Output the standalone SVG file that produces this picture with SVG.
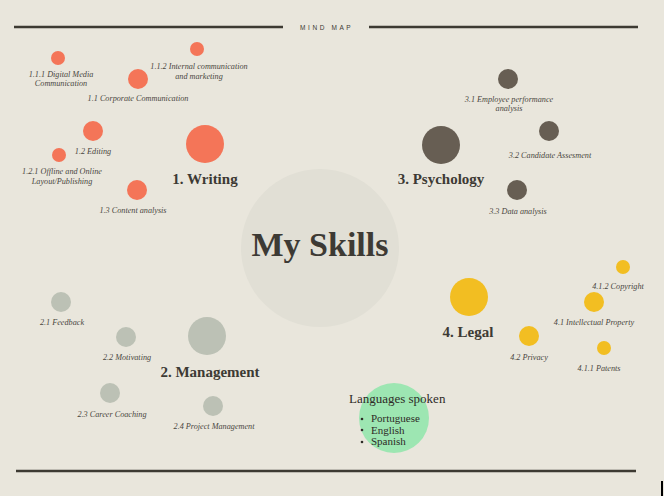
<svg xmlns="http://www.w3.org/2000/svg" width="664" height="496" viewBox="0 0 664 496">
<style>
.lbl{font-family:"Liberation Serif",serif;font-style:italic;font-size:8.2px;fill:#4a463f;text-anchor:middle}
.hd{font-family:"Liberation Serif",serif;font-weight:bold;font-size:15px;fill:#3d3a34;text-anchor:middle}
.w{fill:#F47558}.p{fill:#675E53}.m{fill:#BCC1B5}.l{fill:#F2BE22}
.rule{stroke:#3d3a32;stroke-width:2.5}
.lang{font-family:"Liberation Serif",serif;fill:#2e2b27}
</style>
<rect width="664" height="496" fill="#E9E6DC"/>
<rect x="661" y="481" width="2" height="15" fill="#000"/>
<g id="frame">
<line class="rule" x1="14" y1="27" x2="283" y2="27"/>
<line class="rule" x1="369" y1="27" x2="638" y2="27"/>
<line class="rule" x1="16" y1="471" x2="636" y2="471"/>
<text x="300" y="30" font-family="Liberation Sans,sans-serif" font-size="6.5" letter-spacing="2.6" fill="#3d3a34">MIND MAP</text>
</g>
<g id="connectors"></g>
<g id="center">
<circle cx="320" cy="248" r="79" fill="#E1DFD5"/>
<text x="320" y="256" font-family="Liberation Serif,serif" font-weight="bold" font-size="34" fill="#3d3a34" text-anchor="middle">My Skills</text>
</g>
<g id="writing">
<circle class="w" cx="205" cy="144" r="19"/>
<text class="hd" x="205" y="184">1. Writing</text>
</g>
<g id="w11"><circle class="w" cx="138" cy="79" r="10"/><text class="lbl" x="138" y="101">1.1 Corporate Communication</text></g>
<g id="w111"><circle class="w" cx="58" cy="58" r="7"/><text class="lbl" x="61" y="77">1.1.1 Digital Media</text><text class="lbl" x="61" y="86">Communication</text></g>
<g id="w112"><circle class="w" cx="197" cy="49" r="7"/><text class="lbl" x="199" y="69">1.1.2 Internal communication</text><text class="lbl" x="199" y="79">and marketing</text></g>
<g id="w12"><circle class="w" cx="93" cy="131" r="10"/><text class="lbl" x="93" y="154">1.2 Editing</text></g>
<g id="w121"><circle class="w" cx="59" cy="155" r="7"/><text class="lbl" x="62" y="174">1.2.1 Offline and Online</text><text class="lbl" x="62" y="184">Layout/Publishing</text></g>
<g id="w13"><circle class="w" cx="137" cy="190" r="10"/><text class="lbl" x="133" y="213">1.3 Content analysis</text></g>
<g id="psychology">
<circle class="p" cx="441" cy="145" r="19"/>
<text class="hd" x="441" y="184">3. Psychology</text>
</g>
<g id="p31"><circle class="p" cx="508" cy="79" r="10"/><text class="lbl" x="509" y="102">3.1 Employee performance</text><text class="lbl" x="509" y="111">analysis</text></g>
<g id="p32"><circle class="p" cx="549" cy="131" r="10"/><text class="lbl" x="550" y="158">3.2 Candidate Assesment</text></g>
<g id="p33"><circle class="p" cx="517" cy="190" r="10"/><text class="lbl" x="518" y="214">3.3 Data analysis</text></g>
<g id="management">
<circle class="m" cx="207" cy="336" r="19"/>
<text class="hd" x="210" y="377">2. Management</text>
</g>
<g id="m21"><circle class="m" cx="61" cy="302" r="10"/><text class="lbl" x="62" y="325">2.1 Feedback</text></g>
<g id="m22"><circle class="m" cx="126" cy="337" r="10"/><text class="lbl" x="127" y="360">2.2 Motivating</text></g>
<g id="m23"><circle class="m" cx="110" cy="393" r="10"/><text class="lbl" x="112" y="417">2.3 Career Coaching</text></g>
<g id="m24"><circle class="m" cx="213" cy="406" r="10"/><text class="lbl" x="214" y="429">2.4 Project Management</text></g>
<g id="legal">
<circle class="l" cx="469" cy="297" r="19"/>
<text class="hd" x="468" y="337">4. Legal</text>
</g>
<g id="l41"><circle class="l" cx="594" cy="302" r="10"/><text class="lbl" x="594" y="325">4.1 Intellectual Property</text></g>
<g id="l411"><circle class="l" cx="604" cy="348" r="7"/><text class="lbl" x="599" y="371">4.1.1 Patents</text></g>
<g id="l412"><circle class="l" cx="623" cy="267" r="7"/><text class="lbl" x="618" y="289">4.1.2 Copyright</text></g>
<g id="l42"><circle class="l" cx="529" cy="336" r="10"/><text class="lbl" x="529" y="360">4.2 Privacy</text></g>
<g id="languages">
<circle cx="394" cy="418" r="35" fill="#9DE6B2"/>
<text class="lang" x="349" y="403" font-size="13">Languages spoken</text>
<circle cx="362" cy="419" r="1.3" fill="#2e2b27"/>
<circle cx="362" cy="430" r="1.3" fill="#2e2b27"/>
<circle cx="362" cy="442" r="1.3" fill="#2e2b27"/>
<text class="lang" x="371" y="422" font-size="11">Portuguese</text>
<text class="lang" x="371" y="434" font-size="11">English</text>
<text class="lang" x="371" y="445" font-size="11">Spanish</text>
</g>
</svg>
